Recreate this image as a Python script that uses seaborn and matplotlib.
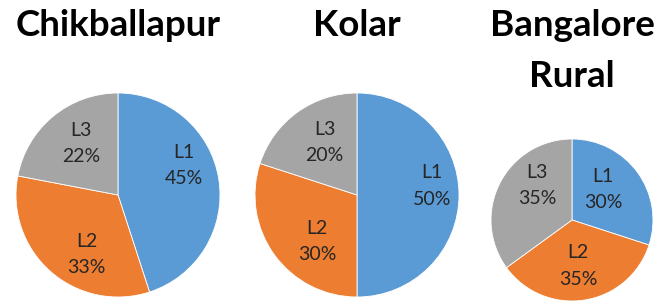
import matplotlib
matplotlib.use("Agg")
import matplotlib.pyplot as plt
import seaborn as sns

sns.set_theme(style="white")
plt.rcParams['font.family'] = ['Lato', 'DejaVu Sans']

districts = ["Chikballapur", "Kolar", "Bangalore\nRural"]
levels = ["L1", "L2", "L3"]
chik_share = [45, 33, 22]
kolar_share = [50, 30, 20]
rural_share = [30, 35, 35]
colors = sns.color_palette(["#5B9BD5", "#ED7D31", "#A5A5A5"])

W, H = 656, 301
fig = plt.figure(figsize=(W / 100, H / 100), dpi=100)

# pie placement in pixels: centre x, centre y (from top), radius, label distance
layout = [(118, 195, 102, 0.63), (357, 195, 102, 0.64), (572, 220, 81, 0.55)]
shares = [chik_share, kolar_share, rural_share]
# "best fit" label nudges in pixels (dx right, dy down), like the excel original
nudges = [[(2, -19), (11, 11), (4, -2)],
          [(10, -9), (13, 8), (6, 0)],
          [(-5, -4), (-1, 2), (5, -14)]]

for (cx, cy, r, pd), vals, nd in zip(layout, shares, nudges):
    ax = fig.add_axes([(cx - r) / W, (H - cy - r) / H, 2 * r / W, 2 * r / H])
    labels_iter = iter(levels)
    wedges, _, autotexts = ax.pie(
        vals, colors=colors, startangle=90, counterclock=False,
        radius=1, pctdistance=pd,
        autopct=lambda p, it=labels_iter: f"{next(it)}\n{p:.0f}%",
        wedgeprops=dict(linewidth=0.6, edgecolor="white"),
        textprops=dict(fontsize=14, color="#262626", linespacing=1.65))
    for t, (dx, dy) in zip(autotexts, nd):
        x, y = t.get_position()
        t.set_position((x + dx / r, y - dy / r))
    ax.set_xlim(-1, 1)
    ax.set_ylim(-1, 1)
    ax.set_aspect("equal")
    ax.axis("off")

title_kw = dict(fontsize=26.5, fontweight="bold", color="black", ha="center", va="baseline")
fig.text(118 / W, 1 - 36 / H, districts[0], **title_kw)
fig.text(357 / W, 1 - 36 / H, districts[1], **title_kw)
fig.text(572 / W, 1 - 36 / H, "Bangalore", **title_kw)
fig.text(572 / W, 1 - 87 / H, "Rural", **title_kw)

fig.savefig("out.png", dpi=100)
